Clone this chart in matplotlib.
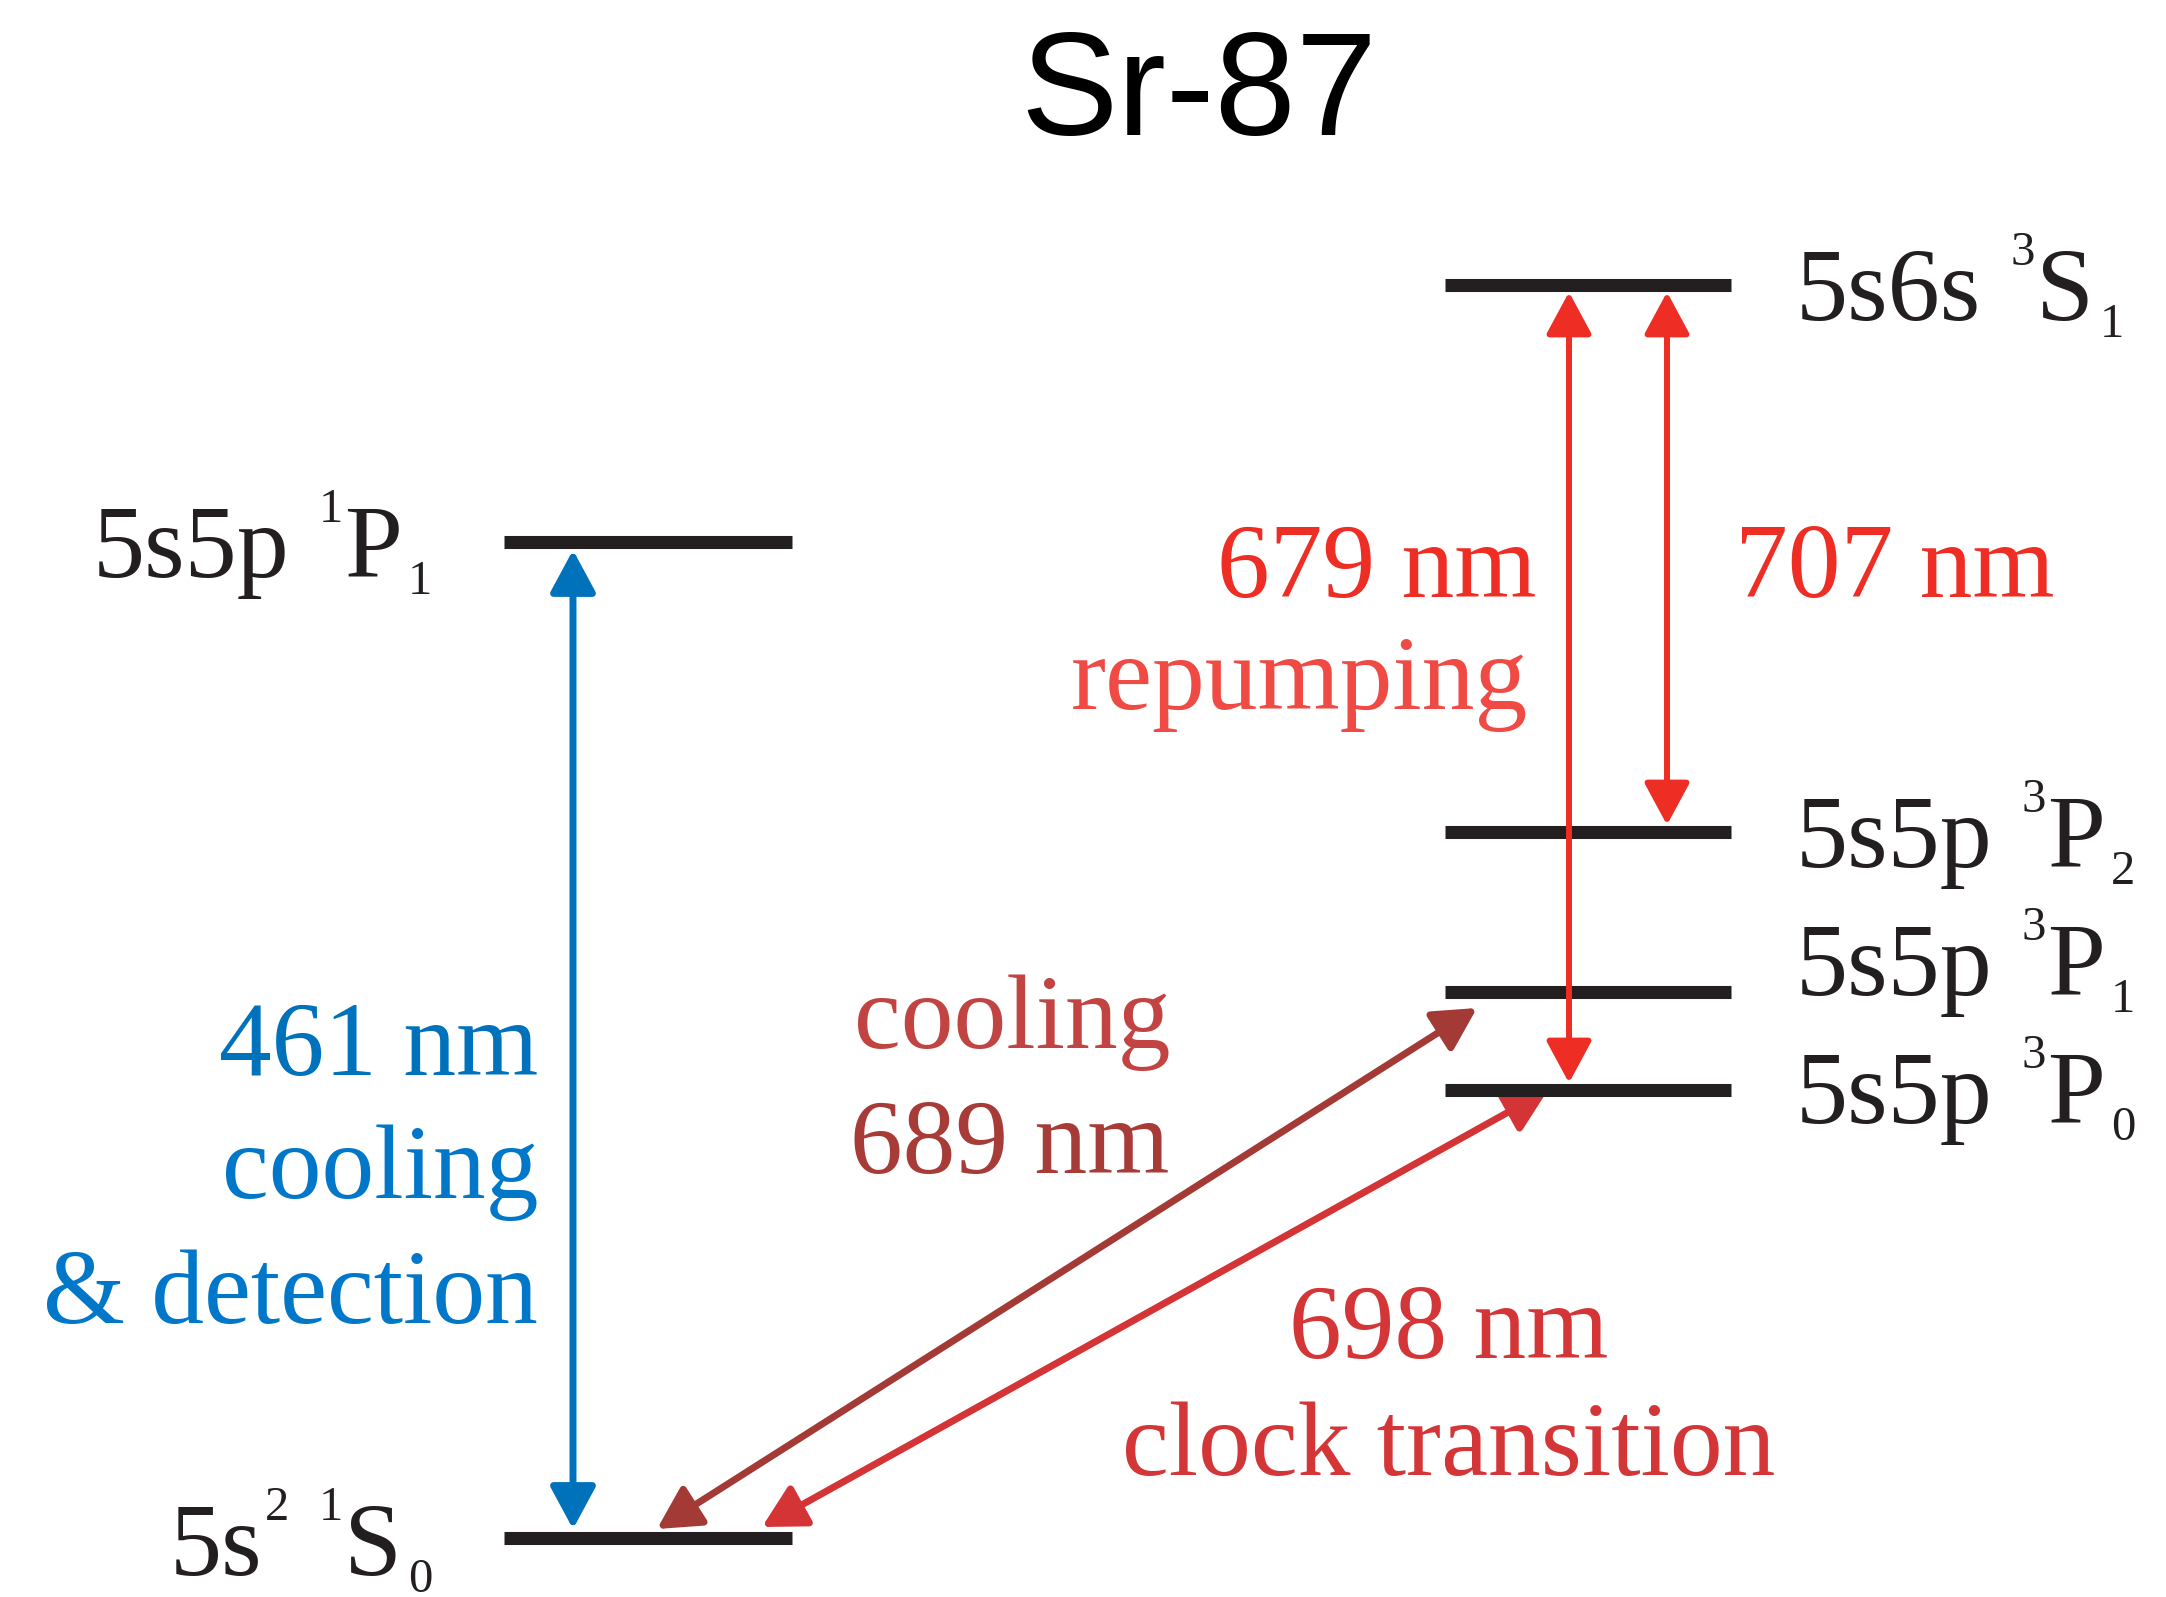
import matplotlib
matplotlib.use("Agg")
import matplotlib.pyplot as plt

plt.rcParams['font.family'] = 'Liberation Serif'

# energy levels: configuration, term symbol parts and height in the diagram (top = 0)
level_config = ['5s', '5s5p', '5s6s', '5s5p', '5s5p', '5s5p']
config_sup = ['2', '', '', '', '', '']
level_mult = ['1', '1', '3', '3', '3', '3']
level_letter = ['S', 'P', 'S', 'P', 'P', 'P']
level_j = ['0', '1', '1', '2', '1', '0']
level_y = [1538, 542, 285, 832, 992, 1090]
level_side = ['left', 'left', 'right', 'right', 'right', 'right']
label_shift = [37, 35, 35, 35, 3, 33]

# transitions: (from, to) points
blue_461 = [(573, 1529), (573, 550)]
red_679 = [(1569, 1083), (1569, 292)]
red_707 = [(1667, 825), (1667, 292)]
brown_689 = [(657, 1529), (1477, 1008)]
clock_698 = [(762, 1527), (1548, 1090)]

fig = plt.figure(figsize=(21.66, 15.97), dpi=100)
ax = fig.add_axes([0, 0, 1, 1])
ax.set_xlim(0, 2166)
ax.set_ylim(1597, 0)
ax.axis('off')
renderer = fig.canvas.get_renderer()

col_x = {'left': (504, 792), 'right': (1445, 1731)}
black = '#231f20'

# level bars
for y, side in zip(level_y, level_side):
    x0, x1 = col_x[side]
    ax.plot([x0, x1], [y, y], color=black, lw=9.4, solid_capstyle='butt', zorder=3)


def put(x, y, s, size):
    t = ax.text(x, y, s, ha='left', va='baseline', fontsize=size, color=black)
    w = t.get_window_extent(renderer).width
    return t, w


# level labels, built piece by piece (small raised / lowered digits)
small = 35
for i in range(len(level_y)):
    base = level_y[i] + label_shift[i]
    arts = []
    x = 0
    t, w = put(x, base, level_config[i], 75)
    arts.append(t)
    x += w
    if config_sup[i]:
        t, w = put(x + 3, base - 55, config_sup[i], small)
        arts.append(t)
        x += w + 3
    x += 29
    t, w = put(x, base - 55, level_mult[i], small)
    arts.append(t)
    x += w + 1
    t, w = put(x, base, level_letter[i], 75)
    arts.append(t)
    x += w + 6
    t, w = put(x, base + 17, level_j[i], small)
    arts.append(t)
    x += w
    if level_side[i] == 'left':
        x0 = 432 - x
    else:
        x0 = 1796
    for a in arts:
        a.set_x(a.get_position()[0] + x0)


def arrow(p, color, lw, z):
    ax.annotate('', xy=p[1], xytext=p[0],
                arrowprops=dict(arrowstyle='<|-|>,head_length=2.6,head_width=1.4',
                                mutation_scale=10, color=color, lw=lw,
                                shrinkA=0, shrinkB=0),
                zorder=z)


arrow(brown_689, '#a33a36', 5, 2)
arrow(clock_698, '#d43436', 5, 2)
arrow(blue_461, '#0072bc', 5, 4)
arrow(red_679, '#ee2d24', 4.3, 4)
arrow(red_707, '#ee2d24', 4.3, 4)

# transition labels
fs = 76
ax.text(538, 1075, '461 nm', ha='right', va='baseline', fontsize=fs, color='#0072bc')
ax.text(538, 1198, 'cooling', ha='right', va='baseline', fontsize=fs, color='#0077c8')
ax.text(538, 1323, '& detection', ha='right', va='baseline', fontsize=fs, color='#0077c8')

ax.text(1536, 597, '679 nm', ha='right', va='baseline', fontsize=fs, color='#ee2d24')
ax.text(1528, 709, 'repumping', ha='right', va='baseline', fontsize=fs, color='#f04a44')
ax.text(1735, 597, '707 nm', ha='left', va='baseline', fontsize=fs, color='#ee2d24')

ax.text(1012, 1048, 'cooling', ha='center', va='baseline', fontsize=fs, color='#c24442')
ax.text(1010, 1173, '689 nm', ha='center', va='baseline', fontsize=fs, color='#a63b37')

ax.text(1449, 1358, '698 nm', ha='center', va='baseline', fontsize=fs, color='#d43537')
ax.text(1449, 1475, 'clock transition', ha='center', va='baseline', fontsize=fs, color='#d43537')

ax.text(1199, 135, 'Sr-87', ha='center', va='baseline', fontsize=105,
        family='Liberation Sans', color='black')

fig.savefig('out.png', dpi=100, facecolor='white')
